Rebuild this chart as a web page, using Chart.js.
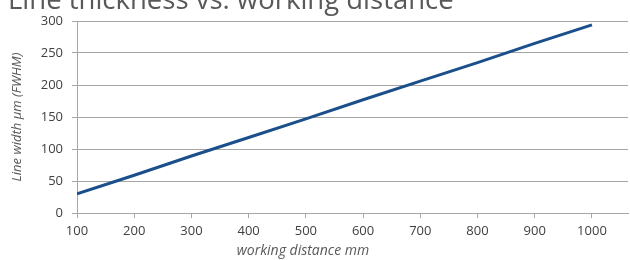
<!DOCTYPE html>
<html>
<head>
<meta charset="utf-8">
<script src="https://cdn.jsdelivr.net/npm/chart.js@4"></script>
<style>
    body { margin: 0; background: #fff; }
    #box { width: 630px; height: 260px; position: relative; }
</style>
</head>
<body>
<div id="box"><canvas id="lineChart"></canvas></div>
<script>
// values
const distances = [100, 200, 300, 400, 500, 600, 700, 800, 900, 1000];
const lineWidths = [30, 59, 89, 118, 147, 177, 206, 235, 265, 294];

const chartTitle = "Line thickness vs. working distance";
const xTitle = "working distance mm";
const yTitle = "Line width µm (FWHM)";

const gridColor = "#a6a6a6";
const textColor = "#404040";
const titleColor = "#595959";

// titles drawn by hand, Excel puts them a bit off-centre
const titlesPlugin = {
    id: 'titles',
    afterDraw(chart) {
        const ctx = chart.ctx;
        const area = chart.chartArea;
        ctx.save();
        ctx.fillStyle = titleColor;

        ctx.font = '27.5px "Open Sans"';
        ctx.textAlign = 'left';
        ctx.textBaseline = 'alphabetic';
        ctx.fillText(chartTitle, 8, 9);

        ctx.font = 'italic 14px "Open Sans"';
        ctx.textAlign = 'center';
        ctx.textBaseline = 'middle';
        ctx.fillText(xTitle, 303, 251);

        ctx.font = 'italic 13px "Open Sans"';
        ctx.translate(17, (area.top + area.bottom) / 2);
        ctx.rotate(-Math.PI / 2);
        ctx.fillText(yTitle, 0, 0);
        ctx.restore();
    }
};

new Chart(document.getElementById('lineChart'), {
    type: 'line',
    data: {
        datasets: [{
            data: distances.map((d, i) => ({ x: d, y: lineWidths[i] })),
            borderColor: "#1b4f8c",
            borderWidth: 3,
            pointRadius: 0,
            fill: false,
            tension: 0
        }]
    },
    options: {
        responsive: true,
        maintainAspectRatio: false,
        animation: false,
        layout: {
            padding: { top: 21, right: 2, left: 0, bottom: 0 }
        },
        plugins: {
            legend: { display: false },
            title: { display: false },
            tooltip: { enabled: false }
        },
        scales: {
            x: {
                type: 'linear',
                min: 100,
                max: 1063,
                afterFit: (scale) => { scale.height = 47; },
                grid: {
                    drawOnChartArea: false,
                    color: gridColor,
                    tickLength: 5
                },
                border: { color: gridColor },
                ticks: {
                    stepSize: 100,
                    includeBounds: false,
                    color: textColor,
                    padding: 5,
                    maxRotation: 0,
                    font: { family: '"Open Sans"', size: 13 },
                    callback: (v) => String(v)
                }
            },
            y: {
                min: 0,
                max: 300,
                afterFit: (scale) => { scale.width = 77; },
                grid: {
                    color: gridColor,
                    tickLength: 5
                },
                border: { color: gridColor },
                ticks: {
                    stepSize: 50,
                    color: textColor,
                    padding: 9,
                    font: { family: '"Open Sans"', size: 13 }
                }
            }
        }
    },
    plugins: [titlesPlugin]
});
</script>
</body>
</html>
